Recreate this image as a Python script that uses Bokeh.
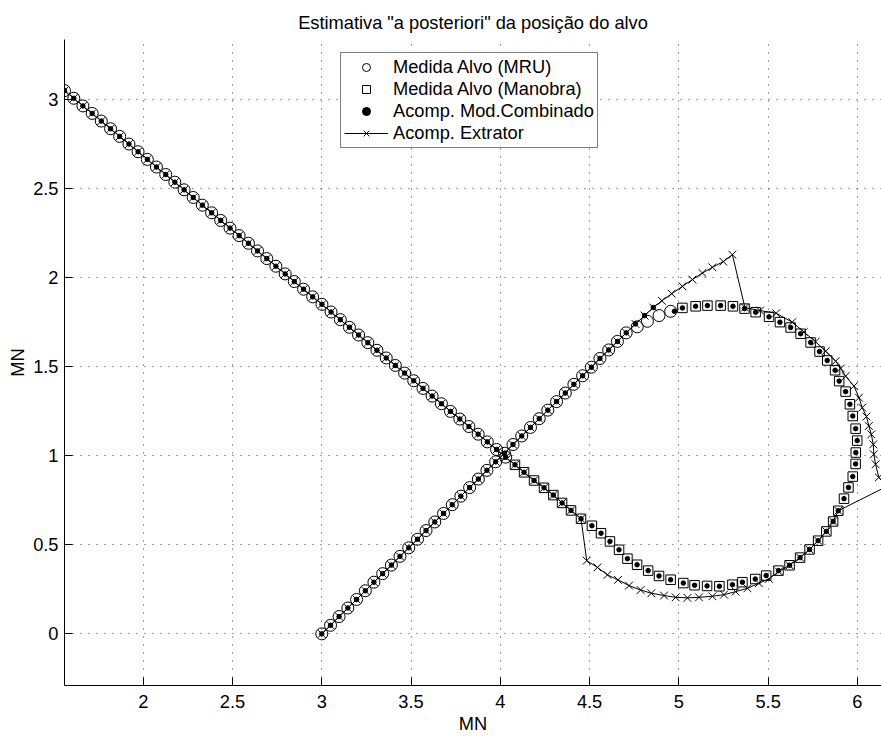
from bokeh.plotting import figure
from bokeh.models import Range1d, FixedTicker, Legend, LegendItem
from bokeh.embed import file_html
from bokeh.resources import INLINE

TITLE = 'Estimativa "a posteriori" da posição do alvo'
X_LABEL = "MN"
Y_LABEL = "MN"

x_ticks = [2, 2.5, 3, 3.5, 4, 4.5, 5, 5.5, 6]
x_tick_labels = ["2", "2.5", "3", "3.5", "4", "4.5", "5", "5.5", "6"]
y_ticks = [0, 0.5, 1, 1.5, 2, 2.5, 3]
y_tick_labels = ["0", "0.5", "1", "1.5", "2", "2.5", "3"]

# first straight leg (MRU), from (3, 0) towards NE
leg1_x = [3.000, 3.049, 3.097, 3.146, 3.195, 3.244, 3.292, 3.341, 3.390, 3.438,
          3.487, 3.536, 3.584, 3.633, 3.682, 3.731, 3.779, 3.828, 3.877, 3.925,
          3.974, 4.023, 4.071, 4.120, 4.169, 4.218, 4.266, 4.315, 4.364, 4.412,
          4.461, 4.510, 4.558, 4.607, 4.656, 4.705]
leg1_y = [0.000, 0.048, 0.097, 0.145, 0.193, 0.242, 0.290, 0.338, 0.386, 0.435,
          0.483, 0.531, 0.580, 0.628, 0.676, 0.725, 0.773, 0.821, 0.869, 0.918,
          0.966, 1.014, 1.063, 1.111, 1.159, 1.208, 1.256, 1.304, 1.352, 1.401,
          1.449, 1.497, 1.546, 1.594, 1.642, 1.690]
# measurements at start of turn (still MRU symbol)
bend_x = [4.767, 4.824, 4.889, 4.954]
bend_y = [1.724, 1.755, 1.787, 1.811]

# second straight leg (MRU), from the crossing towards NW
leg2_x = [4.030, 3.979, 3.927, 3.876, 3.824, 3.773, 3.721, 3.670, 3.618, 3.567,
          3.515, 3.464, 3.412, 3.361, 3.309, 3.258, 3.206, 3.155, 3.104, 3.052,
          3.001, 2.949, 2.898, 2.846, 2.795, 2.743, 2.692, 2.640, 2.589, 2.537,
          2.486, 2.434, 2.383, 2.331, 2.280, 2.229, 2.177, 2.126, 2.074, 2.023,
          1.971, 1.920, 1.868, 1.817, 1.765, 1.714, 1.662, 1.611, 1.559]
leg2_y = [0.992, 1.035, 1.078, 1.121, 1.164, 1.206, 1.249, 1.292, 1.335, 1.378,
          1.421, 1.464, 1.507, 1.549, 1.592, 1.635, 1.678, 1.721, 1.764, 1.807,
          1.850, 1.892, 1.935, 1.978, 2.021, 2.064, 2.107, 2.150, 2.193, 2.236,
          2.278, 2.321, 2.364, 2.407, 2.450, 2.493, 2.536, 2.579, 2.621, 2.664,
          2.707, 2.750, 2.793, 2.836, 2.879, 2.922, 2.964, 3.007, 3.050]

# maneuver measurements (squares)
man_x = [5.020, 5.094, 5.160, 5.234, 5.303, 5.368, 5.430, 5.505, 5.566, 5.626,
         5.682, 5.738, 5.788, 5.831, 5.875, 5.898, 5.934, 5.958, 5.974, 5.990,
         5.999, 5.991, 5.990, 5.974, 5.950, 5.925, 5.893, 5.864, 5.826, 5.780,
         5.732, 5.679, 5.620, 5.558, 5.489, 5.428, 5.356, 5.300, 5.227, 5.158,
         5.088, 5.025, 4.954, 4.889, 4.828, 4.766, 4.712, 4.665, 4.614, 4.564,
         4.513, 4.452, 4.396, 4.346, 4.297, 4.245, 4.189, 4.133, 4.082]
man_y = [1.830, 1.839, 1.843, 1.843, 1.839, 1.826, 1.806, 1.780, 1.750, 1.720,
         1.685, 1.636, 1.585, 1.535, 1.480, 1.419, 1.360, 1.289, 1.223, 1.152,
         1.085, 1.018, 0.954, 0.883, 0.822, 0.759, 0.691, 0.631, 0.575, 0.523,
         0.474, 0.428, 0.385, 0.355, 0.327, 0.308, 0.290, 0.276, 0.267, 0.269,
         0.273, 0.285, 0.304, 0.325, 0.355, 0.388, 0.422, 0.472, 0.519, 0.565,
         0.607, 0.646, 0.693, 0.735, 0.779, 0.820, 0.861, 0.907, 0.949]

# combined-model tracker estimates that leave the measurements at the turn
comb_turn_x = [4.757, 4.808, 4.857, 4.975]
comb_turn_y = [1.740, 1.787, 1.832, 1.811]

# extractor tracker estimates that leave the measurements
ext_over_x = [4.757, 4.808, 4.857, 4.905, 4.960, 5.020, 5.076, 5.132, 5.188, 5.249, 5.300]
ext_over_y = [1.740, 1.787, 1.832, 1.870, 1.910, 1.951, 1.989, 2.026, 2.058, 2.090, 2.129]
ext_arc_x = [5.370, 5.455, 5.545, 5.635, 5.700, 5.766, 5.822, 5.878, 5.907, 5.934,
             5.981, 6.009, 6.027, 6.051, 6.064, 6.078, 6.089, 6.092, 6.102, 6.120, 6.165]
ext_arc_y = [1.832, 1.815, 1.800, 1.750, 1.695, 1.640, 1.587, 1.531, 1.490, 1.447,
             1.391, 1.326, 1.270, 1.220, 1.167, 1.120, 1.064, 1.008, 0.952, 0.878, 0.828]
ext_back_x = [5.893, 5.864, 5.826, 5.780, 5.732, 5.679, 5.620, 5.560]
ext_back_y = [0.691, 0.631, 0.575, 0.523, 0.474, 0.428, 0.385, 0.350]
ext_low_x = [5.504, 5.448, 5.384, 5.318, 5.253, 5.188, 5.113, 5.048, 4.982, 4.917,
             4.846, 4.786, 4.721, 4.659, 4.600, 4.544, 4.484]
ext_low_y = [0.308, 0.284, 0.256, 0.237, 0.220, 0.211, 0.205, 0.202, 0.205, 0.215,
             0.228, 0.246, 0.271, 0.303, 0.331, 0.373, 0.411]
ext_ret_x = [4.452, 4.396, 4.346, 4.297, 4.245, 4.189, 4.133, 4.082]
ext_ret_y = [0.646, 0.693, 0.735, 0.779, 0.820, 0.861, 0.907, 0.949]

mru_x = leg1_x + bend_x + leg2_x
mru_y = leg1_y + bend_y + leg2_y
comb_x = leg1_x + comb_turn_x + man_x + leg2_x
comb_y = leg1_y + comb_turn_y + man_y + leg2_y
ext_x = leg1_x + ext_over_x + ext_arc_x + ext_back_x + ext_low_x + ext_ret_x + leg2_x
ext_y = leg1_y + ext_over_y + ext_arc_y + ext_back_y + ext_low_y + ext_ret_y + leg2_y

FONT = "Liberation Sans"
FS = "18.25px"

p = figure(width=881, height=736, output_backend="svg", toolbar_location=None,
           x_range=Range1d(1.559, 6.135), y_range=Range1d(-0.29, 3.337),
           min_border_left=64, min_border_right=0, min_border_top=39, min_border_bottom=49,
           title=TITLE)
p.outline_line_color = None
p.background_fill_color = "white"
p.border_fill_color = "white"

p.title.align = "center"
p.title.text_font = FONT
p.title.text_font_size = FS
p.title.text_font_style = "normal"
p.title.text_color = "black"
p.title.standoff = 13

for ax, ticks, labels, lab in ((p.xaxis[0], x_ticks, x_tick_labels, X_LABEL),
                               (p.yaxis[0], y_ticks, y_tick_labels, Y_LABEL)):
    ax.ticker = FixedTicker(ticks=ticks)
    ax.major_label_overrides = dict(zip(ticks, labels))
    ax.axis_label = lab
    ax.axis_label_text_font = FONT
    ax.axis_label_text_font_size = FS
    ax.axis_label_text_font_style = "normal"
    ax.axis_label_text_color = "black"
    ax.major_label_text_font = FONT
    ax.major_label_text_font_size = FS
    ax.major_label_text_color = "black"
    ax.axis_line_color = "black"
    ax.major_tick_line_color = "black"
    ax.major_tick_in = 8
    ax.major_tick_out = 0
    ax.minor_tick_line_color = None
    ax.axis_label_standoff = 2
p.xaxis[0].major_label_standoff = 9
p.yaxis[0].major_label_standoff = 6

p.xgrid.ticker = FixedTicker(ticks=x_ticks)
p.ygrid.ticker = FixedTicker(ticks=y_ticks)
for g in (p.xgrid[0], p.ygrid[0]):
    g.grid_line_color = "black"
    g.grid_line_dash = "1 7"
    g.grid_line_width = 1
    g.grid_line_alpha = 0.75

r_circ = p.scatter(mru_x, mru_y, marker="circle", size=12, fill_color=None,
                   line_color="black", line_width=1)
r_sq = p.scatter(man_x, man_y, marker="square", size=9.5, fill_color=None,
                 line_color="black", line_width=1)
r_dot = p.scatter(comb_x, comb_y, marker="circle", size=4.5, fill_color="black",
                  line_color="black")
r_line = p.line(ext_x, ext_y, line_color="black", line_width=1)
r_x = p.scatter(ext_x, ext_y, marker="x", size=11, line_color="black", line_width=1)

legend = Legend(items=[
    LegendItem(label="Medida Alvo (MRU)", renderers=[r_circ]),
    LegendItem(label="Medida Alvo (Manobra)", renderers=[r_sq]),
    LegendItem(label="Acomp. Mod.Combinado", renderers=[r_dot]),
    LegendItem(label="Acomp. Extrator", renderers=[r_line, r_x]),
], location=(276, 537))
legend.label_text_font = FONT
legend.label_text_font_size = FS
legend.label_text_color = "black"
legend.border_line_color = "black"
legend.border_line_width = 1
legend.background_fill_color = "white"
legend.background_fill_alpha = 1
legend.padding = 3
legend.spacing = -2
legend.margin = 0
legend.glyph_width = 44
legend.glyph_height = 20
legend.label_height = 20
legend.label_standoff = 5
p.add_layout(legend)

open("out.html", "w").write(file_html(p, INLINE))
